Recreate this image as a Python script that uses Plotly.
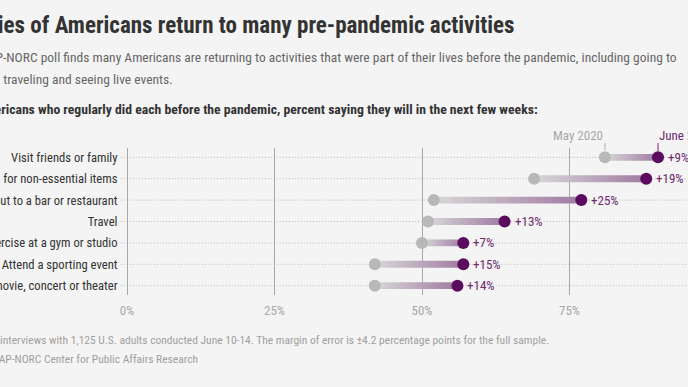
import plotly.graph_objects as go

categories = [
    "Visit friends or family",
    "Go shopping in person for non-essential items",
    "Go out to a bar or restaurant",
    "Travel",
    "Exercise at a gym or studio",
    "Attend a sporting event",
    "Go to a movie, concert or theater",
]
may_2020 = [81, 69, 52, 51, 50, 42, 42]
june_2020 = [90, 88, 77, 64, 57, 57, 56]
x_ticks = [0, 25, 50, 75]
x_tick_labels = ["0%", "25%", "50%", "75%"]

title = "Majorities of Americans return to many pre-pandemic activities"
sub1 = ("A new AP-NORC poll finds many Americans are returning to activities that were part of "
        "their lives before the pandemic, including going to")
sub2 = "restaurants, traveling and seeing live events."
question = ("Among Americans who regularly did each before the pandemic, percent saying they "
            "will in the next few weeks:")
foot1 = ("The AP-NORC poll was based on interviews with 1,125 U.S. adults conducted June 10-14. "
         "The margin of error is ±4.2 percentage points for the full sample.")
foot2 = "Source: AP-NORC Center for Public Affairs Research"

FONT = "Liberation Sans Narrow, Roboto Condensed, DejaVu Sans Condensed, sans-serif"
W, H = 688, 387
L, R, T, B = 127, 0, 148, 92
PW, PH = W - L - R, H - T - B

def px(x):
    return (x - L) / PW

def py(y):
    return (H - B - y) / PH

GRAY_DOT = "#b8b8b8"
PURPLE_DOT = "#5c0c5e"
LABEL_PURPLE = "#6e2b70"
BG = "#f4f4f4"

fig = go.Figure()
ys = list(range(len(categories)))
half = 0.16
for i, (a, b) in enumerate(zip(may_2020, june_2020)):
    fig.add_trace(go.Scatter(
        x=[a, b, b, a, a], y=[i - half, i - half, i + half, i + half, i - half],
        mode="none", fill="toself",
        fillgradient=dict(type="horizontal", start=a, stop=b,
                          colorscale=[[0, "#d8d8d8"], [1, "#a07aa2"]]),
        hoverinfo="skip", showlegend=False))

fig.add_trace(go.Scatter(x=may_2020, y=ys, mode="markers",
                         marker=dict(color=GRAY_DOT, size=12), showlegend=False))
fig.add_trace(go.Scatter(x=june_2020, y=ys, mode="markers",
                         marker=dict(color=PURPLE_DOT, size=12), showlegend=False))

shapes = []
for i in ys:
    shapes.append(dict(type="line", xref="paper", yref="y", x0=-0.011, x1=1, y0=i, y1=i,
                       line=dict(color="#b8b8b8", width=1, dash="1px,2px"), layer="below"))
# small leader ticks for the column labels
shapes.append(dict(type="line", xref="x", yref="paper", x0=may_2020[0], x1=may_2020[0],
                   y0=py(143), y1=py(150), line=dict(color="#b0b0b0", width=1)))
shapes.append(dict(type="line", xref="x", yref="paper", x0=june_2020[0], x1=june_2020[0],
                   y0=py(143), y1=py(151), line=dict(color=LABEL_PURPLE, width=1)))

ann = []
for i, (a, b) in enumerate(zip(may_2020, june_2020)):
    ann.append(dict(x=b, y=i, xref="x", yref="y", text=f"+{b - a}%", showarrow=False,
                    xanchor="left", xshift=8, font=dict(family=FONT, size=13, color=LABEL_PURPLE)))

def txt(text, right_x, y, size, color, bold=False):
    t = f"<b>{text}</b>" if bold else text
    return dict(x=px(right_x), y=py(y), xref="paper", yref="paper", text=t, showarrow=False,
                xanchor="right", yanchor="middle", font=dict(family=FONT, size=size, color=color))

ann += [
    txt(title, 517, 25, 23, "#333333", bold=True),
    txt(sub1, 679, 57, 13.5, "#666666"),
    txt(sub2, 175, 79, 13.5, "#666666"),
    txt(question, 540, 109, 13.7, "#333333", bold=True),
    txt(foot1, 551, 340, 11.5, "#a0a0a0"),
    txt(foot2, 200, 359, 11.5, "#a0a0a0"),
    dict(x=may_2020[0], y=py(135), xref="x", yref="paper", text="May 2020", showarrow=False,
         xanchor="right", yanchor="middle", font=dict(family=FONT, size=13, color="#a8a8a8")),
    dict(x=june_2020[0], y=py(135), xref="x", yref="paper", text="June 2020", showarrow=False,
         xanchor="left", yanchor="middle", xshift=-1, font=dict(family=FONT, size=13, color=LABEL_PURPLE)),
]

fig.update_layout(
    width=W, height=H, margin=dict(l=L, r=R, t=T, b=B, autoexpand=False),
    paper_bgcolor=BG, plot_bgcolor=BG,
    shapes=shapes, annotations=ann,
    xaxis=dict(range=[0, 95.08], tickvals=x_ticks, ticktext=x_tick_labels,
               showgrid=True, gridcolor="#a8a8a8", gridwidth=1,
               zeroline=True, zerolinecolor="#a8a8a8", zerolinewidth=1,
               ticks="outside", ticklen=3, tickcolor="rgba(0,0,0,0)",
               tickfont=dict(family=FONT, size=13, color="#a8a8a8"), automargin=False, fixedrange=True),
    yaxis=dict(range=[6.435, -0.435], tickvals=ys, ticktext=categories, showgrid=False,
               zeroline=False, ticks="outside", ticklen=6, tickcolor="rgba(0,0,0,0)",
               tickfont=dict(family=FONT, size=12.6, color="#333333"), automargin=False, fixedrange=True),
    showlegend=False,
)
fig.write_html("out.html", config={"displayModeBar": False},
               post_script="document.body.style.margin='0';document.body.style.overflow='hidden';"
                           "document.body.style.background='#f4f4f4';")
